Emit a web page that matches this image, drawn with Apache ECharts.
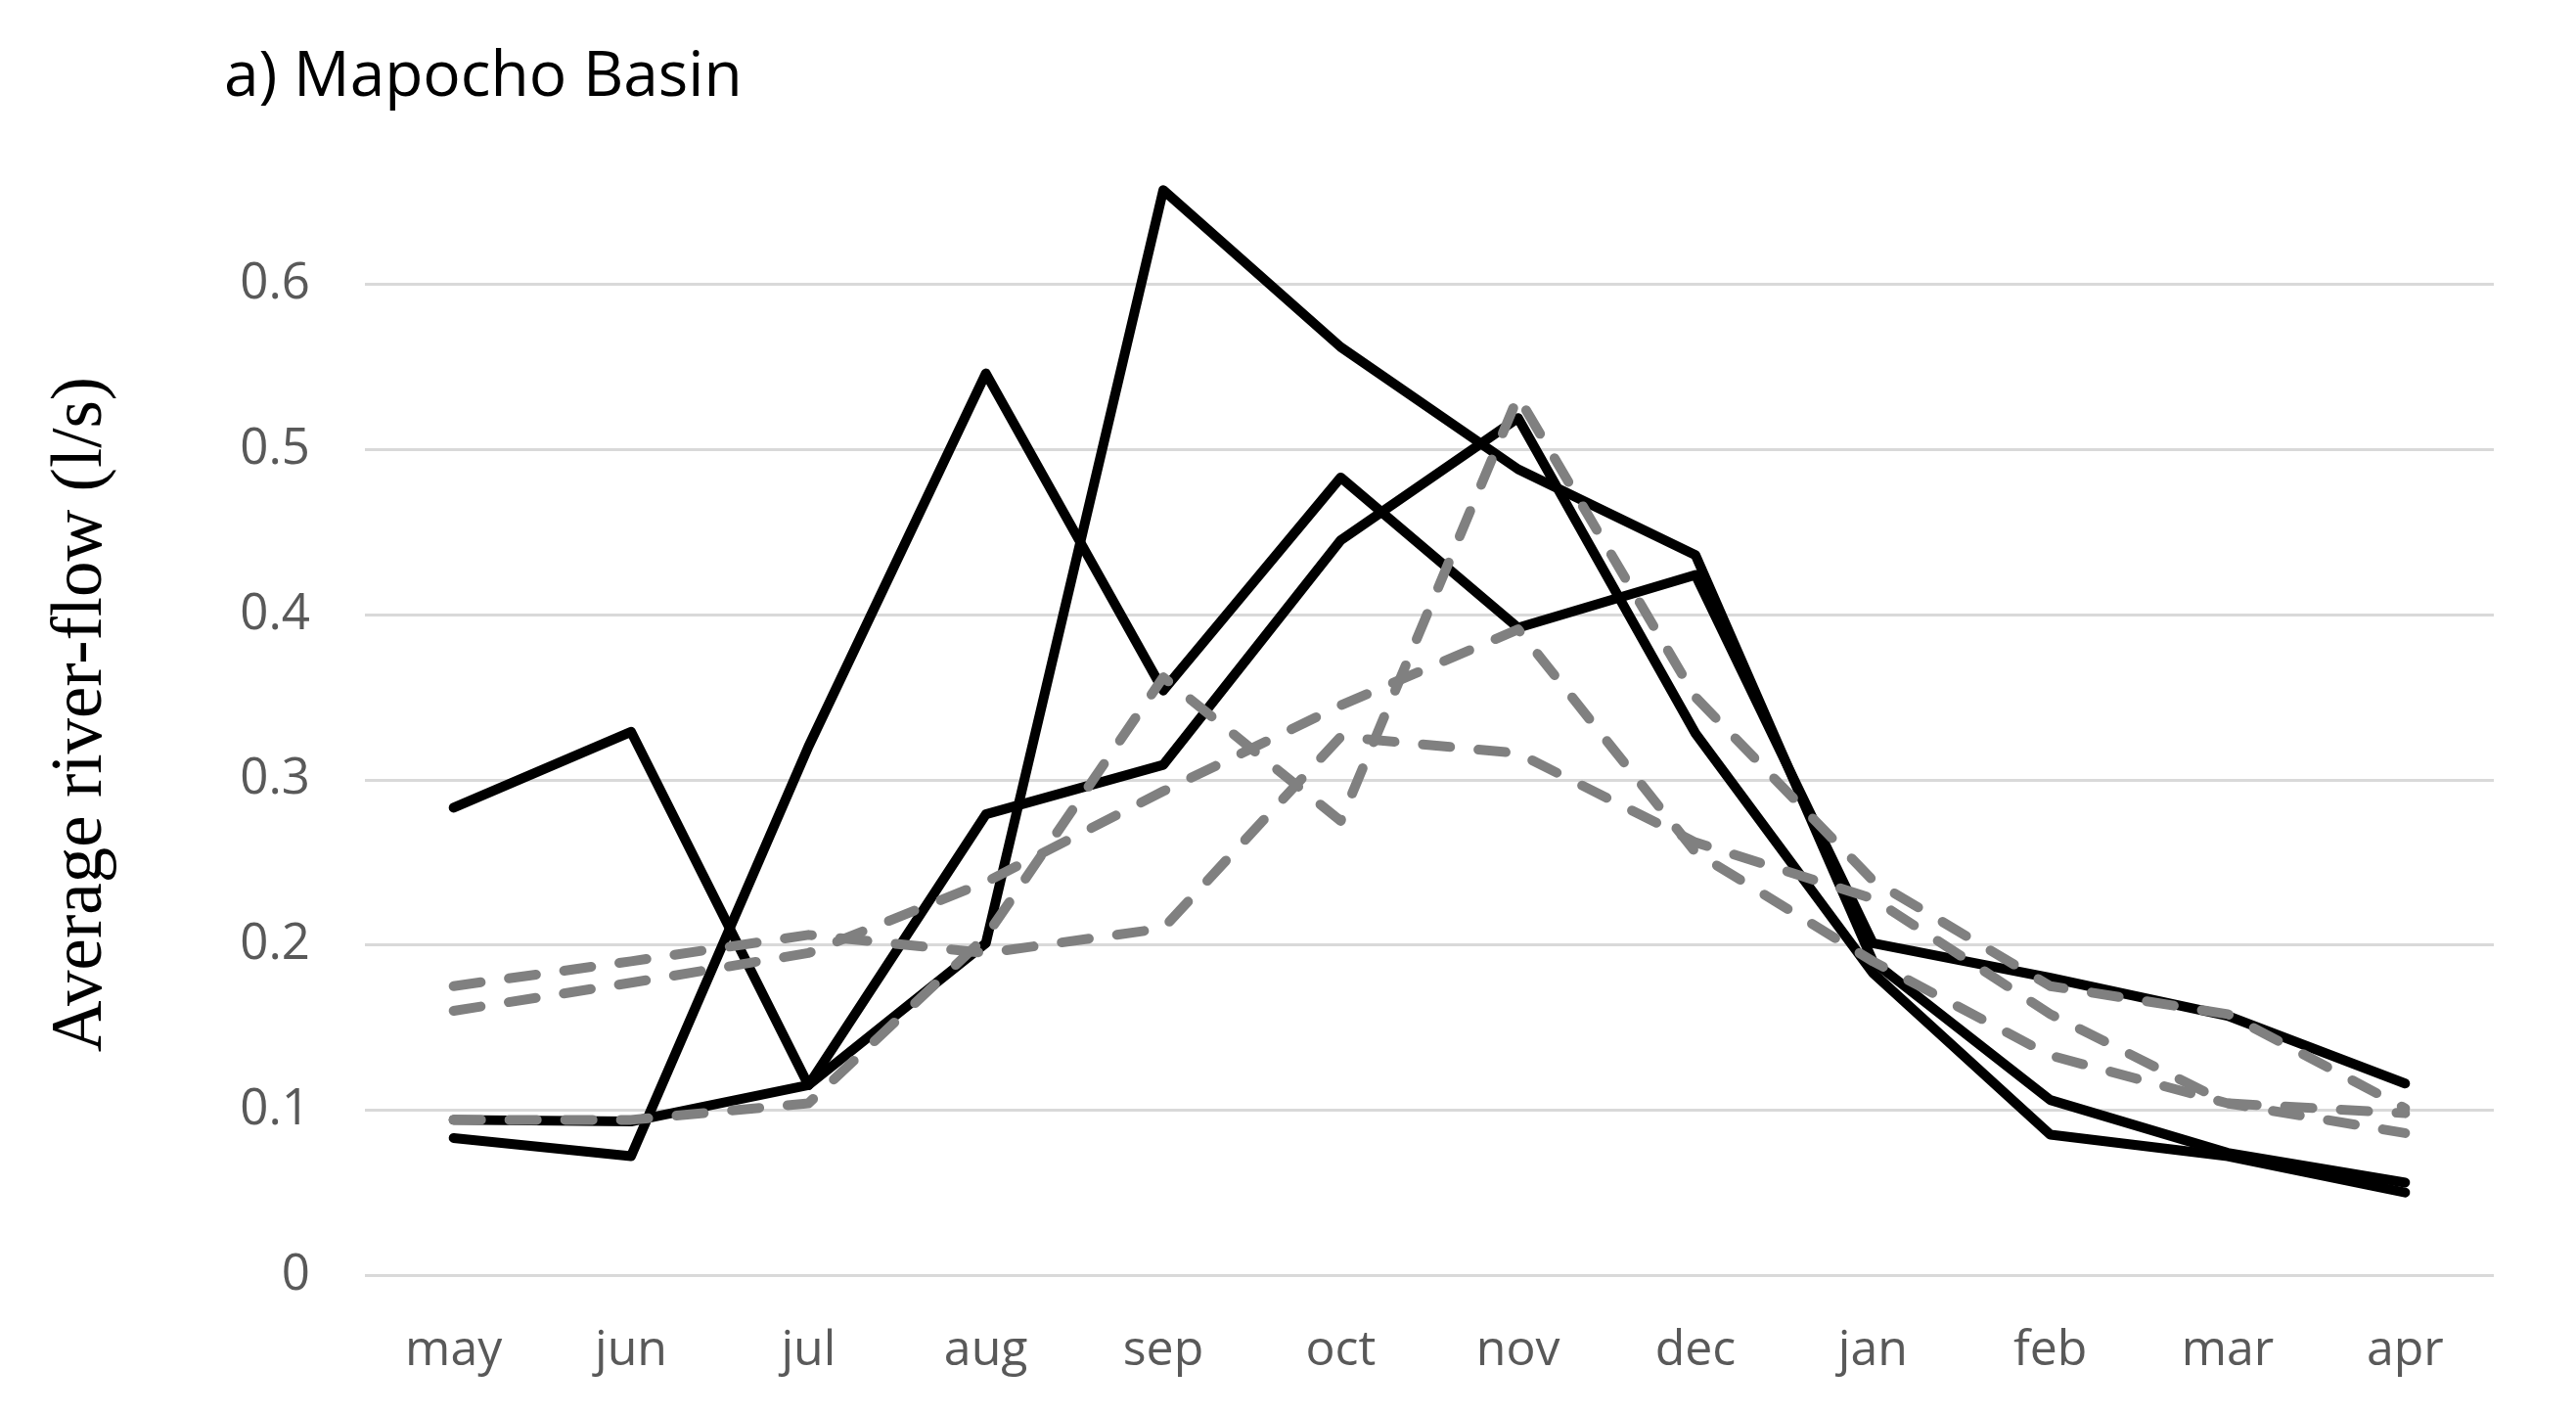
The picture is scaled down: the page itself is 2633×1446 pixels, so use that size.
<!DOCTYPE html>
<html>
<head>
<meta charset="utf-8">
<script src="https://cdn.jsdelivr.net/npm/echarts@6/dist/echarts.min.js"></script>
<style>
html,body{margin:0;padding:0;background:#fff;}
#chart{width:2633px;height:1446px;}
</style>
</head>
<body>
<div id="chart"></div>
<script>
// ---- data ----
const months = ['may','jun','jul','aug','sep','oct','nov','dec','jan','feb','mar','apr'];
const yTicks = [0, 0.1, 0.2, 0.3, 0.4, 0.5, 0.6];

// solid black series
const solidA = [0.283, 0.329, 0.115, 0.201, 0.657, 0.562, 0.488, 0.436, 0.190, 0.106, 0.074, 0.056];
const solidB = [0.083, 0.072, 0.320, 0.546, 0.354, 0.483, 0.392, 0.424, 0.201, 0.180, 0.157, 0.116];
const solidC = [0.094, 0.093, 0.115, 0.279, 0.309, 0.445, 0.519, 0.328, 0.183, 0.085, 0.072, 0.050];

// dashed grey series
const dashedD = [0.175, 0.190, 0.206, 0.195, 0.210, 0.326, 0.316, 0.262, 0.228, 0.158, 0.104, 0.098];
const dashedE = [0.160, 0.177, 0.195, 0.238, 0.293, 0.345, 0.391, 0.256, 0.190, 0.133, 0.104, 0.086];
const dashedF = [0.094, 0.094, 0.104, 0.205, 0.362, 0.275, 0.532, 0.350, 0.239, 0.175, 0.158, 0.101];

const titleText = 'a) Mapocho Basin';
const yName = 'Average river-flow (l/s)';

const chart = echarts.init(document.getElementById('chart'), null, {renderer: 'canvas'});

function solid(name, data) {
  return {
    name, type: 'line', data, symbol: 'none', z: 2,
    lineStyle: {color: '#000000', width: 10, cap: 'round', join: 'round'},
    animation: false
  };
}
function dashed(name, data) {
  return {
    name, type: 'line', data, symbol: 'none', z: 3,
    lineStyle: {color: '#808080', width: 10, type: [28, 29], cap: 'round', join: 'round'},
    animation: false
  };
}

chart.setOption({
  backgroundColor: '#ffffff',
  animation: false,
  title: {
    text: titleText,
    left: 224, top: 43,
    textStyle: {fontFamily: 'Open Sans', fontSize: 64, fontWeight: 'normal', color: '#000000'}
  },
  graphic: [{
    type: 'text',
    x: 84, y: 730,
    rotation: Math.PI / 2,
    style: {
      text: yName,
      fontFamily: 'Liberation Serif', fontSize: 73, fill: '#000000',
      align: 'center', verticalAlign: 'middle'
    },
    silent: true
  }],
  grid: {left: 373, right: 84, top: 121.75, bottom: 143, containLabel: false, outerBoundsMode: 'none'},
  xAxis: {
    type: 'category',
    data: months,
    boundaryGap: true,
    axisLine: {show: false},
    axisTick: {show: false},
    splitLine: {show: false},
    axisLabel: {fontFamily: 'Open Sans', fontSize: 50, color: '#595959', margin: 53}
  },
  yAxis: {
    type: 'value',
    min: 0, max: 0.7, interval: 0.1,
    axisLine: {show: false},
    axisTick: {show: false},
    axisLabel: {
      fontFamily: 'Open Sans', fontSize: 51, color: '#595959', margin: 56,
      showMaxLabel: false,
      formatter: function (v) {
        const t = yTicks.find(x => Math.abs(x - v) < 1e-9);
        if (t === undefined) return '';
        return t === 0 ? '0' : t.toFixed(1);
      }
    },
    splitLine: {show: true, showMaxLine: false, lineStyle: {color: '#d9d9d9', width: 3}}
  },
  series: [
    solid('A', solidA),
    solid('B', solidB),
    solid('C', solidC),
    dashed('D', dashedD),
    dashed('E', dashedE),
    dashed('F', dashedF)
  ]
});
</script>
</body>
</html>
